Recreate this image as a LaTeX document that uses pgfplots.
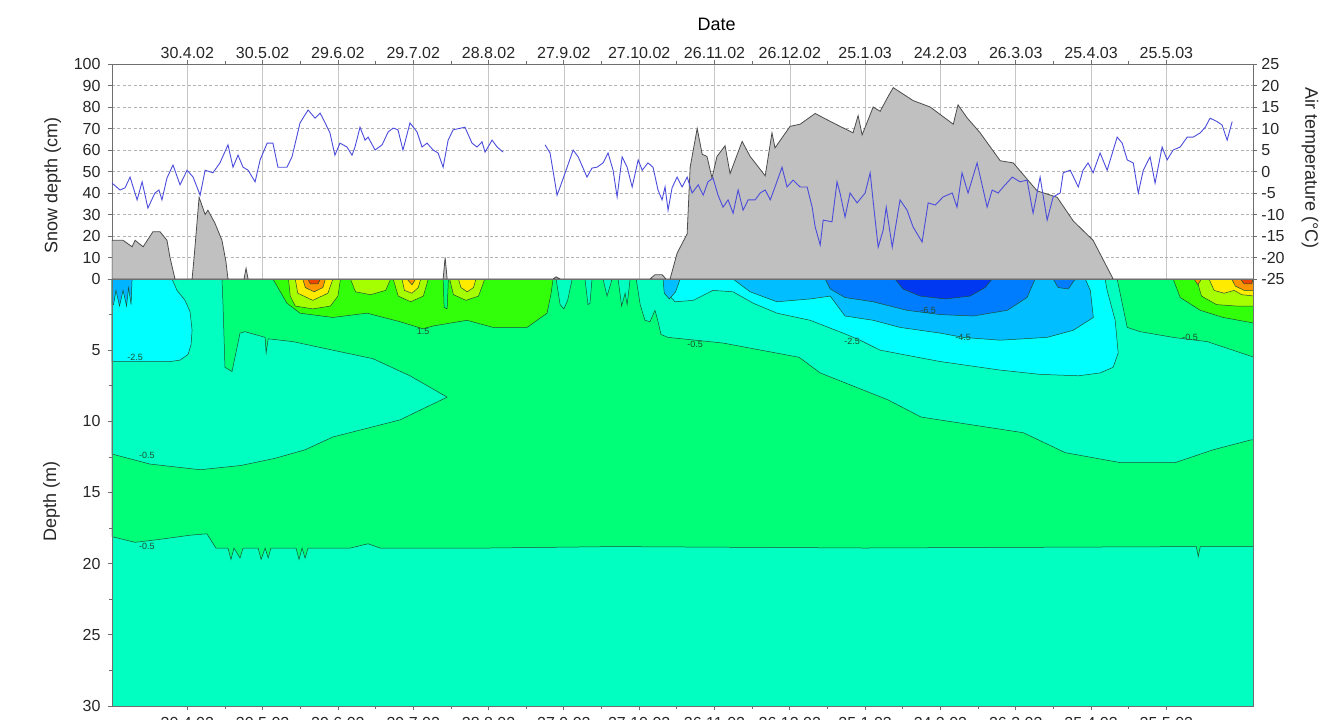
\documentclass[border=0pt]{standalone}
\usepackage{pgfplots}
\pgfplotsset{compat=1.18}
\usepackage{fontspec}
\setmainfont{Liberation Sans}
\definecolor{aqua}{RGB}{0,255,192}
\definecolor{sgreen}{RGB}{0,255,120}
\definecolor{ccyan}{RGB}{0,255,255}
\definecolor{lblue}{RGB}{0,190,255}
\definecolor{mblue}{RGB}{0,125,255}
\definecolor{dblue}{RGB}{0,55,240}
\definecolor{bgreen}{RGB}{50,255,10}
\definecolor{ygreen}{RGB}{165,255,0}
\definecolor{cyellow}{RGB}{255,235,0}
\definecolor{corange}{RGB}{255,150,0}
\definecolor{cred}{RGB}{235,70,0}
\definecolor{cline}{RGB}{30,80,50}
\definecolor{snowgray}{RGB}{192,192,192}
\definecolor{tempblue}{RGB}{75,75,220}
\definecolor{axgray}{RGB}{110,110,110}
\pgfplotsset{
  cont/.style={draw=cline, line width=0.25pt},
  common/.style={scale only axis, width=570.5pt, xmin=0, xmax=454.5,
    /pgf/number format/assume math mode=true,
    tick label style={font=\fontsize{8}{9}\selectfont, text=black!85},
    label style={font=\fontsize{9}{10}\selectfont, text=black!85},
    axis line style={axgray, line width=0.4pt},
    tick style={axgray, line width=0.4pt},
    major tick length=2.2pt, minor tick length=1.4pt, tick align=outside},
}
\newcommand{\datelabels}{30.4.02,30.5.02,29.6.02,29.7.02,28.8.02,27.9.02,27.10.02,26.11.02,26.12.02,25.1.03,24.2.03,26.3.03,25.4.03,25.5.03}
\begin{document}
\begin{tikzpicture}[x=1pt,y=1pt]
\useasboundingbox (-56pt,-6.5pt) rectangle (606pt,353pt);
% ---------------- lower panel: ground temperature contours
\begin{axis}[common, at={(0pt,0pt)}, anchor=south west, height=213.5pt,
  ymin=0, ymax=30, y dir=reverse, axis on top,
  xtick={30,60,...,420}, xticklabels/.expanded={\datelabels}, minor x tick num=1,
  ytick={0,5,...,30}, yticklabels={,5,10,15,20,25,30}, minor y tick num=1,
  xtick pos=left, ytick pos=left,
  ylabel={Depth (m)}, ylabel style={at={(axis description cs:-0.053,0.48)}, anchor=center}]
% background
\addplot[fill=aqua, draw=none] coordinates {(0,0) (455,0) (455,30) (0,30)} -- cycle;
% green band
\addplot[fill=sgreen, cont] coordinates {(0,0) (455,0) (455,18.8) (433.5,18.8) (432.7,19.5) (431.9,18.8) (300,18.9) (200,18.8) (150,18.9) (106.8,18.9) (102,18.6) (95,18.9) (78.1,18.9) (76.9,19.6) (75.7,18.9) (74.5,19.7) (73.3,18.9) (63.3,18.9) (62.2,19.6) (61,18.9) (59.4,19.7) (58.2,18.9) (52.2,18.9) (51,19.6) (48.6,18.9) (47.4,19.7) (46.2,18.9) (41.4,18.9) (37.8,17.9) (31.1,18.0) (18.7,18.3) (9.2,18.5) (0,18.1)} -- cycle;
% spring 2002 cold region
\addplot[fill=aqua, cont] coordinates {(0,0) (43.8,0) (44.2,1.7) (45.0,6.2) (47.8,6.5) (51.0,3.8) (53.0,3.7) (61.0,4.1) (61.4,5.2) (62.2,4.2) (72.1,4.4) (88.0,5.0) (104.0,5.6) (118.7,6.8) (133.5,8.3) (114.7,9.9) (88.0,11.1) (76.9,12.0) (64.9,12.6) (51.4,13.1) (35.1,13.4) (15.1,13.0) (0,12.3)} -- cycle;
% winter cold region
\addplot[fill=aqua, cont] coordinates {(208.8,0) (400.4,0) (404.4,3.4) (409.6,3.7) (422.7,4.1) (436.3,4.4) (455,5.5) (455,11.3) (453.8,11.3) (438.6,12.0) (423.5,12.9) (401.6,12.9) (379.7,12.2) (363,10.8) (322.3,9.7) (309.2,8.5) (282.1,6.6) (273.7,5.5) (243.4,4.5) (221.5,4.1) (218.7,3.9) (217.5,3.0) (216.3,2.2) (214.3,3.0) (212.3,2.9) (210.4,1.8)} -- cycle;
\addplot[fill=aqua, cont] coordinates {(176.9,0) (178.5,1.8) (180,2.1) (181.5,1.5) (183.3,0)} -- cycle;
\addplot[fill=aqua, cont] coordinates {(188.4,0) (189.6,1.8) (190.4,1.7) (191.2,0)} -- cycle;
\addplot[fill=aqua, cont] coordinates {(195.6,0) (197.2,1.2) (199.2,0)} -- cycle;
\addplot[fill=aqua, cont] coordinates {(201.6,0) (203,1.9) (204.4,1.0) (205.2,1.8) (206.4,0)} -- cycle;
% spring 2002 cyan
\addplot[fill=ccyan, cont] coordinates {(0,0) (23.9,0) (25.9,0.8) (29.1,1.5) (31.1,2.3) (31.9,3.6) (31.5,4.6) (30.3,5.3) (27.1,5.7) (23.1,5.8) (0,5.8)} -- cycle;
\addplot[fill=lblue!85!mblue, cont] coordinates {(0,0) (8,0) (7.6,1.8) (6.6,0.6) (5.8,1.9) (4.4,0.8) (3,1.9) (1.6,0.8) (0.6,1.8) (0,1.8)} -- cycle;
% winter cyan
\addplot[fill=ccyan, cont] coordinates {(220.3,0) (221.1,1.0) (224.3,1.6) (231.5,1.5) (239.4,0.8) (247.4,0.9) (255.4,1.7) (264.9,2.4) (278.1,2.9) (291.2,3.8) (298,4.3) (306,5.0) (329.9,5.8) (353.8,6.4) (369.7,6.7) (385,6.8) (393.6,6.6) (398.8,6.2) (400.8,5.2) (399.6,2.9) (396.4,0.8) (395.6,0)} -- cycle;
\addplot[fill=lblue, cont] coordinates {(219.5,0) (220,1.0) (222,1.4) (224.5,0.9) (226.3,0)} -- cycle;
% winter light blue
\addplot[fill=lblue, cont] coordinates {(247.4,0) (254.2,0.9) (264.9,1.6) (278.1,1.4) (286.1,1.2) (292,2.6) (303.2,2.9) (313.9,3.4) (329.9,3.8) (339,4.1) (353.8,4.3) (372.5,4.1) (382.9,3.6) (390.9,2.7) (389.7,0.8) (387.7,0)} -- cycle;
% winter mid blue
\addplot[fill=mblue, cont] coordinates {(284.1,0) (286.1,0.7) (292,1.3) (303.2,1.6) (316.7,2.2) (329.9,2.5) (343,2.6) (356.6,2.2) (364.5,1.3) (367.7,0)} -- cycle;
\addplot[fill=mblue, cont] coordinates {(374.9,0) (376.9,0.6) (380.9,0.7) (383.7,0)} -- cycle;
% winter deep blue
\addplot[fill=dblue, cont] coordinates {(311.9,0) (315.1,0.7) (321.9,1.2) (331.9,1.4) (341.8,1.2) (347.8,0.6) (350.6,0)} -- cycle;
% summer 2002 warm layer
\addplot[fill=bgreen, cont] coordinates {(64.1,0) (69.7,1.7) (74.9,2.4) (88,2.7) (101.6,2.4) (114.7,3.0) (123.9,3.5) (127.9,3.3) (141.4,2.9) (151.8,3.4) (165.3,3.4) (173.3,2.4) (174.9,1.0) (175.7,0)} -- cycle;
\addplot[fill=sgreen, cont] coordinates {(131.9,0) (132.3,2.0) (133.5,2.1) (134,0)} -- cycle;
\addplot[fill=ygreen, cont] coordinates {(70.3,0) (71,1.2) (73,1.9) (80,2.1) (87,1.9) (90,1.2) (91,0)} -- cycle;
\addplot[fill=ygreen, cont] coordinates {(95,0) (97,0.9) (103,1.1) (109,0.8) (111,0)} -- cycle;
\addplot[fill=ygreen, cont] coordinates {(112,0) (114,1.2) (119,1.6) (124,1.2) (126,0)} -- cycle;
\addplot[fill=ygreen, cont] coordinates {(134.5,0) (136,1.1) (141,1.5) (146,1.2) (148.5,0)} -- cycle;
\addplot[fill=cyellow, cont] coordinates {(73,0) (74,1.0) (80,1.5) (86,1.0) (88,0)} -- cycle;
\addplot[fill=cyellow, cont] coordinates {(115.5,0) (116.5,0.8) (119.5,1.0) (122,0.6) (123,0)} -- cycle;
\addplot[fill=cyellow, cont] coordinates {(138,0) (139,0.6) (141.5,0.9) (144,0.6) (145,0)} -- cycle;
\addplot[fill=corange, cont] coordinates {(76,0) (77,0.6) (80.5,0.9) (84,0.6) (85,0)} -- cycle;
\addplot[fill=corange, cont] coordinates {(117.5,0) (119.5,0.4) (121,0)} -- cycle;
\addplot[fill=cred, cont] coordinates {(78,0) (79,0.35) (82,0.35) (83,0)} -- cycle;
% spring 2003 warm layer
\addplot[fill=bgreen, cont] coordinates {(422.7,0) (425.5,1.3) (433.5,2.2) (442.6,2.7) (455,3.1) (455,0)} -- cycle;
\addplot[fill=ygreen, cont] coordinates {(432,0) (434,1.2) (440,1.8) (448,1.9) (455,1.9) (455,0)} -- cycle;
\addplot[fill=cyellow, cont] coordinates {(437,0) (439,0.8) (443,1.0) (447,0.8) (450,1.1) (455,1.2) (455,0)} -- cycle;
\addplot[fill=corange, cont] coordinates {(431,0) (432.5,0.4) (434,0)} -- cycle;
\addplot[fill=corange, cont] coordinates {(446,0) (447.5,0.5) (451,0.8) (455,0.8) (455,0)} -- cycle;
\addplot[fill=cred, cont] coordinates {(449.5,0) (451,0.35) (454,0.35) (454.5,0)} -- cycle;
% contour labels
\begin{scope}[every node/.style={font=\fontsize{4.5}{5}\selectfont, text=cline, inner sep=0pt}]
\node at (axis cs:9.2,5.5) {-2.5};
\node at (axis cs:13.9,12.4) {-0.5};
\node at (axis cs:13.9,18.8) {-0.5};
\node at (axis cs:123.9,3.7) {1.5};
\node at (axis cs:232.3,4.6) {-0.5};
\node at (axis cs:294.8,4.4) {-2.5};
\node at (axis cs:325.1,2.2) {-6.5};
\node at (axis cs:339.0,4.1) {-4.5};
\node at (axis cs:429.5,4.1) {-0.5};
\end{scope}
\end{axis}
% ---------------- upper panel: snow depth
\begin{axis}[common, at={(0pt,213.5pt)}, anchor=south west, height=107.5pt,
  ymin=0, ymax=100, ytick={0,10,...,100}, ytick pos=left,
  xtick={30,60,...,420}, xticklabels/.expanded={\datelabels}, minor x tick num=1,
  xtick pos=right, xticklabel pos=right,
  xticklabel style={yshift=-3pt},
  xmajorgrids, ymajorgrids,
  x grid style={gray!45, line width=0.3pt},
  y grid style={gray!60, line width=0.3pt, dash pattern=on 1.5pt off 1.2pt},
  ylabel={Snow depth (cm)}, ylabel style={at={(axis description cs:-0.052,0.437)}, anchor=center},
  title={Date}, title style={at={(axis description cs:0.53,1)}, anchor=center, yshift=14pt, font=\fontsize{9}{10}\selectfont}]
\addplot[fill=snowgray, draw=black!70, line width=0.4pt] coordinates {
(0,18) (4.4,18) (8.0,15) (9.2,18) (12.4,15) (16.3,22) (19.1,22) (21.9,18) (23.1,10) (25.1,0)
(31.9,0) (32.7,10) (34.7,38) (37.1,30) (38.2,32) (41.0,26) (43.8,18) (45.4,8) (46.2,0)
(52.6,0) (53.4,5) (54.2,0) (131.9,0) (132.7,10) (133.5,0) (175.7,0) (176.9,1) (178.5,0)
(214.3,0) (216.3,2) (219.1,2) (220.7,0) (222.3,0) (225.1,12) (229.1,21) (230.3,52) (233.1,70)
(235.1,58) (237.0,57) (239.0,47) (241.0,57) (244.2,62) (246.2,49) (251.0,64) (254.2,57)
(260.2,48) (262.9,68) (264.1,61) (270.1,71) (274.1,72) (280.1,77) (283.3,75) (290.0,71)
(295.2,68) (297.2,76) (298.8,67) (303.2,80) (306.0,78) (309.2,85) (311.2,89) (319.1,83)
(325.9,80) (335.1,72) (337.0,81) (340.6,75) (345.8,68) (353.8,55) (359.0,54) (368.5,41)
(376.5,38) (382.9,27) (390.8,18) (398.8,0) (455,0)} \closedcycle;
\end{axis}
% ---------------- upper panel: air temperature
\begin{axis}[common, at={(0pt,213.5pt)}, anchor=south west, height=107.5pt,
  ymin=-25, ymax=25, ytick={-25,-20,...,25},
  yticklabels={-25,-20,-15,-10,-5,0,5,10,15,20,25},
  ytick pos=right, yticklabel pos=right, xtick=\empty,
  yticklabel style={xshift=-1.5pt},
  axis line style={draw=none},
  ylabel={Air temperature (°C)}, ylabel style={at={(axis description cs:1.05,0.516)}, anchor=center, rotate=180}]
\addplot[tempblue, line width=0.45pt] coordinates {
(0,-2.7) (3.2,-4.3) (5.2,-3.8) (7.2,-1.3) (10.0,-6.6) (12.0,-2.4) (14.3,-8.5) (17.1,-5) (18.7,-4.3)
(19.9,-6.6) (21.9,-1.5) (24.3,1.5) (27.1,-3.1) (29.9,0.3) (32.3,-1.3) (35.1,-5.5) (37.1,0.3)
(40.2,-0.3) (43.0,2) (46.2,6.2) (48.2,1.0) (50.2,3.8) (52.2,1) (54.2,0.3) (57.0,-2.4) (59.0,2.7)
(61.8,6.6) (64.1,6.6) (66.1,1) (69.7,1) (71.7,3.4) (74.9,11.3) (78.1,14.3) (80.9,12.4) (82.9,13.6)
(84.9,11.3) (86.8,9) (88.8,3.8) (90.8,6.6) (93.6,5.7) (95.6,3.8) (96.8,5.7) (98.8,10.3) (100.8,7.3)
(102.0,8) (104.8,5) (107.6,6.2) (110.0,9.2) (112.0,10.1) (113.9,9.7) (115.9,5) (118.7,11.3)
(121.5,9.2) (123.5,5.7) (125.5,6.6) (127.9,5) (129.9,4.3) (131.9,1) (133.9,7.3) (135.9,9.7)
(140.6,10.3) (143.4,6.6) (145.4,5.7) (147.4,6.9) (148.6,4.5) (151.4,7.3) (153.4,5.7) (155.8,4.5)};
\addplot[tempblue, line width=0.45pt] coordinates {
(172.5,6.2) (174.5,4.3) (177.3,-5.5) (178.5,-3.6) (181.3,1) (183.7,5) (185.7,3.4) (189.2,-1.3)
(191.2,0.8) (193.2,1) (195.6,2) (197.6,4.3) (199.6,0.3) (201.2,-5.9) (203.2,3.4) (205.2,1)
(207.2,-3.6) (209.6,2.7) (211.2,0.3) (213.5,2) (215.5,1) (217.5,-4.3) (219.1,-6.6) (220.3,-3.6)
(221.5,-9) (223.1,-3.8) (225.1,-1.3) (227.1,-3.6) (229.1,-1.3) (231.1,-5) (233.5,-3.1) (235.5,-5.5)
(237.4,-2.4) (239.4,-1.5) (241.4,-5.5) (243.4,-8.3) (245.4,-6.6) (247.4,-9.7) (249.4,-4.3)
(251.4,-9) (253.4,-6.6) (256.2,-6.6) (258.2,-5) (260.2,-4.3) (262.2,-6.6) (264.1,-3.6) (266.9,1)
(268.9,-3.6) (271.3,-2) (274.1,-3.6) (276.9,-3.6) (278.9,-8.3) (280.1,-12.9) (282.1,-17.1)
(283.3,-11.3) (286.8,-11.7) (288.8,-2.4) (290.0,-5) (292.0,-10.6) (294.0,-5) (296.8,-7.3)
(300.0,-5) (302.0,-0.3) (304.0,-11.3) (305.2,-17.6) (307.2,-13.6) (308.4,-8.3) (310.8,-17.6)
(313.9,-6.6) (316.7,-9) (319.1,-12.9) (322.7,-16.4) (325.1,-7.3) (327.9,-7.8) (331.1,-5.9)
(334.7,-5) (336.6,-8.3) (338.6,-0.3) (341.0,-5) (344.6,2) (348.6,-8.3) (350.6,-4.3) (353.0,-5)
(355.0,-3.6) (358.6,-1.3) (361.7,-2.4) (364.5,-2) (366.9,-9.7) (369.7,-1.3) (372.5,-11.3)
(374.9,-5.9) (377.7,-5) (378.9,-0.3) (381.7,0.3) (384.9,-3.6) (386.8,0.3) (388.8,2) (390.8,-0.3)
(393.6,4.3) (396.4,0.3) (400.4,8) (402.4,6.6) (404.4,2.7) (406.8,2) (408.8,-5) (410.8,0.3)
(413.5,3.4) (415.5,-2.7) (418.3,5.7) (420.3,2.7) (422.7,5) (425.5,5.7) (428.3,8) (430.7,8)
(433.5,9) (435.5,10.3) (437.4,12.4) (440.2,11.6) (442.2,10.8) (444.2,7.3) (446.2,11.6)};
\end{axis}
\end{tikzpicture}
\end{document}
